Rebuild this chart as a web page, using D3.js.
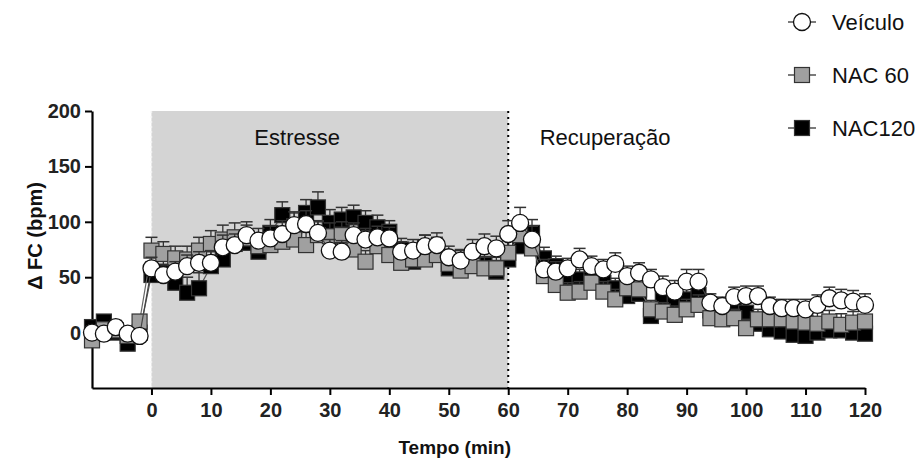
<!DOCTYPE html>
<html>
<head>
<meta charset="utf-8">
<script src="https://cdn.jsdelivr.net/npm/d3@7"></script>
<style>
  body { margin: 0; background: #fff; }
  svg { font-family: "Liberation Sans", Arial, sans-serif; }
</style>
</head>
<body>
<svg class="chart" width="920" height="463"></svg>
<script>
// time points (min)
var times = [-10, -8, -6, -4, -2,
  0, 2, 4, 6, 8, 10, 12, 14, 16, 18, 20, 22, 24, 26, 28, 30,
  32, 34, 36, 38, 40, 42, 44, 46, 48, 50, 52, 54, 56, 58, 60,
  62, 64, 66, 68, 70, 72, 74, 76, 78, 80, 82, 84, 86, 88, 90,
  92, 94, 96, 98, 100, 102, 104, 106, 108, 110, 112, 114, 116, 118, 120];

var veiculo = [0, -1, 5, -1, -3,
  58, 52, 55, 60, 63, 63, 77, 79, 88, 83, 85, 89, 97, 98, 90, 74,
  73, 88, 84, 86, 85, 73, 74, 78, 79, 68, 65, 73, 78, 76, 89,
  99, 84, 57, 55, 58, 66, 60, 57, 62, 51, 54, 48, 41, 37, 46,
  46, 27, 24, 32, 33, 33, 24, 22, 22, 21, 25, 31, 29, 28, 25];
var semVeiculo = [6, 5, 6, 5, 5,
  10, 9, 9, 10, 10, 11, 11, 10, 12, 11, 11, 12, 12, 12, 11, 10,
  10, 11, 10, 10, 10, 9, 10, 10, 11, 10, 10, 11, 11, 11, 12,
  14, 12, 9, 9, 9, 10, 9, 9, 10, 9, 9, 9, 10, 10, 11,
  11, 8, 8, 9, 9, 9, 8, 8, 8, 9, 9, 10, 10, 10, 10];

var nac60 = [-7, 3, 2, -3, 10,
  74, 71, 67, 66, 74, 80, 84, 86, 85, 78, 79, 82, 84, 79, 88, 87,
  88, 75, 64, 78, 70, 63, 66, 66, 70, 62, 56, 60, 58, 58, 72,
  88, 76, 51, 43, 36, 37, 45, 37, 30, 40, 39, 21, 19, 16, 21,
  25, 13, 12, 13, 4, 12, 12, 12, 10, 9, 8, 10, 7, 9, 10];
var semNac60 = [6, 5, 5, 6, 6,
  12, 11, 11, 12, 12, 12, 13, 13, 12, 12, 12, 12, 13, 12, 12, 12,
  12, 11, 10, 11, 11, 10, 10, 10, 11, 10, 10, 10, 10, 10, 11,
  12, 11, 10, 9, 9, 9, 10, 9, 9, 9, 9, 8, 8, 8, 9,
  9, 8, 8, 8, 8, 9, 9, 9, 9, 9, 10, 10, 10, 10, 10];

var nac120 = [5, 10, 0, -10, 0,
  52, 55, 45, 36, 40, 60, 66, 80, 81, 73, 90, 106, 96, 108, 113, 99,
  102, 104, 99, 95, 91, 75, 64, 77, 75, 58, 64, 68, 62, 55, 66,
  78, 90, 67, 60, 50, 48, 48, 45, 40, 33, 35, 15, 30, 27, 30,
  34, 20, 18, 20, 18, 8, 3, 1, -2, -3, 0, 2, 2, 0, -1];
var semNac120 = [6, 5, 5, 5, 6,
  12, 12, 13, 14, 14, 13, 13, 12, 12, 12, 12, 12, 12, 12, 14, 12,
  11, 11, 11, 11, 10, 10, 10, 11, 11, 10, 10, 10, 10, 10, 11,
  12, 12, 10, 9, 9, 9, 9, 9, 9, 9, 9, 9, 9, 9, 9,
  10, 9, 9, 9, 9, 9, 9, 9, 9, 9, 10, 10, 10, 10, 10];

var xTicks = [0, 10, 20, 30, 40, 50, 60, 70, 80, 90, 100, 110, 120];
var yTicks = [0, 50, 100, 150, 200];
var periods = [{label: 'Estresse', from: 0, to: 60}, {label: 'Recuperação', from: 60, to: 120}];

var series = [
  {name: 'NAC120', values: nac120, sem: semNac120, shape: 'square', fill: '#000', line: '#555'},
  {name: 'NAC 60', values: nac60, sem: semNac60, shape: 'square', fill: '#a0a0a0', line: '#666'},
  {name: 'Veículo', values: veiculo, sem: semVeiculo, shape: 'circle', fill: '#fff', line: '#444'}
];

var margin = {top: 111, right: 55, bottom: 75, left: 92},
  width = 920 - margin.left - margin.right,
  height = 463 - margin.top - margin.bottom;

var x = d3.scaleLinear().domain([-10, 120]).range([0, width]);
var y = d3.scaleLinear().domain([-50, 200]).range([height, 0]);

var svg = d3.select('.chart');
var chart = svg.append('g')
  .attr('transform', 'translate(' + margin.left + ',' + margin.top + ')');

// stress period shading
chart.append('rect')
  .attr('x', x(0))
  .attr('y', 0)
  .attr('width', x(60) - x(0))
  .attr('height', height)
  .attr('fill', '#d4d4d4');

chart.append('line')
  .attr('x1', x(0)).attr('x2', x(0))
  .attr('y1', 0).attr('y2', height)
  .attr('stroke', '#f2f2f2').attr('stroke-width', 1.5)
  .attr('stroke-dasharray', '2,3');

chart.append('line')
  .attr('x1', x(60)).attr('x2', x(60))
  .attr('y1', 0).attr('y2', height)
  .attr('stroke', '#000').attr('stroke-width', 2)
  .attr('stroke-dasharray', '2,4');

// period labels sit a little off the centre of each period
var labelOffset = [-5.5, -13.7];
chart.selectAll('.period')
  .data(periods)
  .enter()
  .append('text')
  .attr('class', 'period')
  .attr('x', function(d, i) { return x((d.from + d.to) / 2 + labelOffset[i]); })
  .attr('y', 34)
  .attr('text-anchor', 'middle')
  .attr('font-size', 22)
  .attr('fill', '#111')
  .text(function(d) { return d.label; });

// axes
var xAxis = d3.axisBottom(x).tickValues(xTicks).tickSize(7).tickSizeOuter(0).tickPadding(8);
var yAxis = d3.axisLeft(y).tickValues(yTicks).tickSize(7).tickSizeOuter(0).tickPadding(4);

var gx = chart.append('g')
  .attr('class', 'x axis')
  .attr('transform', 'translate(0,' + height + ')')
  .call(xAxis);
var gy = chart.append('g')
  .attr('class', 'y axis')
  .call(yAxis);

[gx, gy].forEach(function(g) {
  g.select('.domain').attr('stroke', '#000').attr('stroke-width', 2.2);
  g.selectAll('.tick line').attr('stroke', '#000').attr('stroke-width', 2);
  g.selectAll('.tick text')
    .attr('font-size', 20)
    .attr('font-weight', 'bold')
    .attr('fill', '#222')
    .attr('font-family', '"Liberation Sans", Arial, sans-serif');
});

svg.append('text')
  .attr('x', margin.left + x(51))
  .attr('y', 454)
  .attr('text-anchor', 'middle')
  .attr('font-size', 19)
  .attr('font-weight', 'bold')
  .attr('fill', '#111')
  .text('Tempo (min)');

svg.append('text')
  .attr('transform', 'translate(42,236) rotate(-90)')
  .attr('text-anchor', 'middle')
  .attr('font-size', 20)
  .attr('font-weight', 'bold')
  .attr('fill', '#111')
  .text('Δ FC (bpm)');

var line = d3.line()
  .x(function(d) { return x(d.t); })
  .y(function(d) { return y(d.v); });

function drawSymbol(sel, s) {
  if (s.shape === 'circle') {
    sel.append('circle').attr('r', 8.5)
      .attr('fill', s.fill).attr('stroke', '#111').attr('stroke-width', 1.3);
  } else {
    sel.append('rect').attr('x', -7.5).attr('y', -7.5).attr('width', 15).attr('height', 15)
      .attr('fill', s.fill).attr('stroke', '#333').attr('stroke-width', 1.2);
  }
}

// error bars and lines first, then symbols
series.forEach(function(s) {
  var pts = times.map(function(t, i) { return {t: t, v: s.values[i], e: s.sem[i]}; });

  var eb = chart.append('g').attr('class', 'errorbars');
  eb.selectAll('line.v')
    .data(pts).enter().append('line')
    .attr('class', 'v')
    .attr('x1', function(d) { return x(d.t); })
    .attr('x2', function(d) { return x(d.t); })
    .attr('y1', function(d) { return y(d.v); })
    .attr('y2', function(d) { return y(d.v + d.e); })
    .attr('stroke', '#333').attr('stroke-width', 1.3);
  eb.selectAll('line.cap')
    .data(pts).enter().append('line')
    .attr('class', 'cap')
    .attr('x1', function(d) { return x(d.t) - 6; })
    .attr('x2', function(d) { return x(d.t) + 6; })
    .attr('y1', function(d) { return y(d.v + d.e); })
    .attr('y2', function(d) { return y(d.v + d.e); })
    .attr('stroke', '#333').attr('stroke-width', 1.5);

  chart.append('path')
    .datum(pts)
    .attr('d', line)
    .attr('fill', 'none')
    .attr('stroke', s.line)
    .attr('stroke-width', 1.2);

  var pg = chart.append('g').attr('class', 'points');
  pg.selectAll('g')
    .data(pts).enter().append('g')
    .attr('transform', function(d) { return 'translate(' + x(d.t) + ',' + y(d.v) + ')'; })
    .each(function() { drawSymbol(d3.select(this), s); });
});

// legend
var legendOrder = [series[2], series[1], series[0]];
var legend = svg.append('g').attr('class', 'legend');
legendOrder.forEach(function(s, i) {
  var g = legend.append('g').attr('transform', 'translate(802,' + (22 + i * 53) + ')');
  g.append('line').attr('x1', -14).attr('x2', 14).attr('y1', 0).attr('y2', 0)
    .attr('stroke', '#333').attr('stroke-width', 1.3);
  drawSymbol(g, s);
  g.append('text')
    .attr('x', 30).attr('y', 7.5)
    .attr('font-size', 22)
    .attr('fill', '#111')
    .text(s.name);
});
</script>
</body>
</html>
